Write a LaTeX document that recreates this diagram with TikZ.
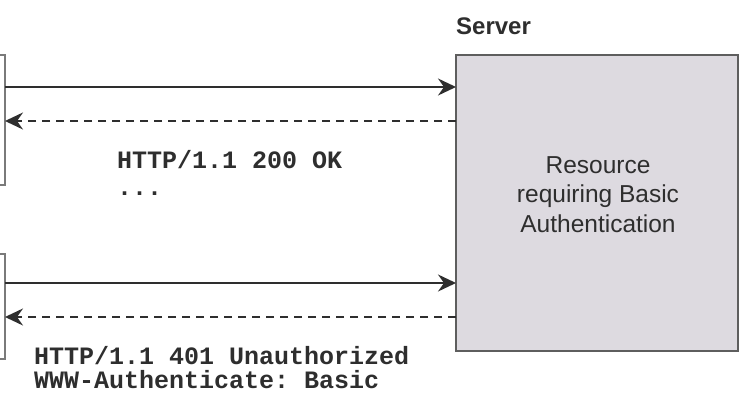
\documentclass[tikz,border=0pt]{standalone}
\usepackage{fontspec}
\setmainfont{Liberation Sans}
\setmonofont{Liberation Mono}
\usepackage{tikz}
\usetikzlibrary{arrows.meta,positioning}
\definecolor{srvfill}{HTML}{DDDAE0}
\definecolor{srvline}{HTML}{5E5E5E}
\definecolor{cliline}{HTML}{7A7A7A}
\definecolor{ink}{HTML}{2E2E2E}

\begin{document}
\begin{tikzpicture}[x=1pt,y=-1pt,
  clientbox/.style={rectangle,draw=cliline,fill=white,line width=2pt,inner sep=0pt,outer sep=0pt},
  serverbox/.style={rectangle,draw=srvline,fill=srvfill,line width=2.2pt,inner sep=0pt,outer sep=0pt},
  msg/.style={inner sep=0pt,anchor=base west,align=left,text=ink},
  req/.style={-{Stealth[length=18pt,width=17pt,inset=6pt]},draw=ink,line width=2pt},
  resp/.style={req,dash pattern=on 8pt off 6pt}
]
  \useasboundingbox (0,0) rectangle (740,396);
  \clip (0,0) rectangle (740,396);

  \node[clientbox,minimum width=40pt,minimum height=130pt,anchor=north east] (clientA) at (5,55) {};
  \node[clientbox,minimum width=40pt,minimum height=105pt,anchor=north east] (clientB) at (5,254) {};
  \node[serverbox,minimum width=282pt,minimum height=296pt,anchor=north west] (server) at (456,55) {};

  \node[inner sep=0pt,anchor=base west,text=ink,font=\bfseries\fontsize{24}{28}\selectfont] (srvlabel) at (456,35) {Server};
  \node[inner sep=0pt,anchor=base,align=center,text=ink,font=\fontsize{24.5}{29.5}\selectfont] (restext) at (598,232)
    {Resource\\requiring Basic\\Authentication};

  \node[msg,font=\ttfamily\bfseries\fontsize{25}{27}\selectfont] (okmsg) at (117,195) {HTTP/1.1 200 OK\\...};
  \node[msg,font=\ttfamily\bfseries\fontsize{25}{24}\selectfont] (authmsg) at (34,388) {HTTP/1.1 401 Unauthorized\\WWW-Authenticate: Basic};

  \draw[req] ([yshift=-32pt]clientA.north east) -- ([yshift=-32pt]server.north west);
  \draw[resp] ([yshift=-66pt]server.north west) -- ([yshift=-66pt]clientA.north east);
  \draw[req] ([yshift=-29pt]clientB.north east) -- ([yshift=-228pt]server.north west);
  \draw[resp] ([yshift=-262pt]server.north west) -- ([yshift=-63pt]clientB.north east);
\end{tikzpicture}
\end{document}
